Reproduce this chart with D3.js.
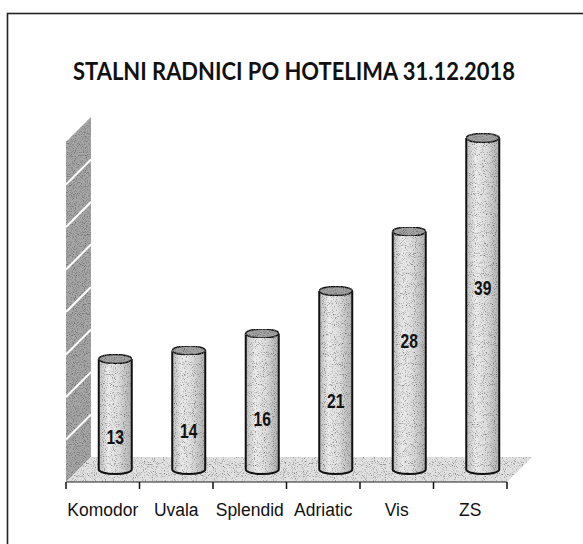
<!DOCTYPE html>
<html>
<head>
<meta charset="utf-8">
<script src="https://cdn.jsdelivr.net/npm/d3@7"></script>
<style>
  html, body { margin: 0; padding: 0; background: #fff; }
  svg { display: block; }
</style>
</head>
<body>
<svg id="chart" width="583" height="544"></svg>
<script>
// ---- data ----
const title = "STALNI RADNICI PO HOTELIMA 31.12.2018";
const categories = ["Komodor", "Uvala", "Splendid", "Adriatic", "Vis", "ZS"];
const values = [13, 14, 16, 21, 28, 39];
// where each value label sits on its bar, in value units
const labelValues = [3.9, 4.6, 6.0, 8.1, 15.1, 21.4];
const gridValues = [5, 10, 15, 20, 25, 30, 35];
const yMax = 40;

// ---- layout ----
const svg = d3.select("#chart");
const frontY = 482;           // front baseline
const depth = 25;             // 3D depth offset
const x = d3.scaleBand().domain(categories).range([66, 507]).paddingInner(0).paddingOuter(0);
const h = d3.scaleLinear().domain([0, yMax]).range([0, 340]);

const defs = svg.append("defs");

function makeGrain(id, a, b, seed) {
  const f = defs.append("filter").attr("id", id)
    .attr("x", 0).attr("y", 0).attr("width", 1).attr("height", 1);
  f.append("feTurbulence").attr("type", "fractalNoise")
    .attr("baseFrequency", 1.1).attr("numOctaves", 1).attr("seed", seed).attr("result", "noise");
  f.append("feColorMatrix").attr("in", "noise").attr("type", "matrix")
    .attr("values", `0 0 0 0 0.15  0 0 0 0 0.15  0 0 0 0 0.15  0 0 0 ${a} ${b}`).attr("result", "dots");
  f.append("feComposite").attr("in", "dots").attr("in2", "SourceGraphic").attr("operator", "in").attr("result", "dotsIn");
  f.append("feMerge").selectAll("feMergeNode").data(["SourceGraphic", "dotsIn"]).join("feMergeNode").attr("in", d => d);
}
makeGrain("grain", -3.2, 1.75, 3);
makeGrain("grainLight", -3.5, 1.7, 7);

const bodyGrad = defs.append("linearGradient").attr("id", "bodyGrad")
  .attr("x1", "0%").attr("x2", "100%").attr("y1", "0%").attr("y2", "0%");
[["0%", "#bdbdbd"], ["28%", "#ececec"], ["60%", "#dedede"], ["100%", "#b0b0b0"]]
  .forEach(([o, c]) => bodyGrad.append("stop").attr("offset", o).attr("stop-color", c));

// ---- frame ----
svg.append("rect").attr("x", 7.5).attr("y", 13.5).attr("width", 620).attr("height", 600)
  .attr("fill", "none").attr("stroke", "#222").attr("stroke-width", 1.6);

// ---- title ----
svg.append("text").attr("x", 294).attr("y", 80).attr("text-anchor", "middle")
  .attr("font-family", "Lato, 'Open Sans', sans-serif").attr("font-weight", 700)
  .attr("font-size", 24).attr("fill", "#111")
  .attr("textLength", 442).attr("lengthAdjust", "spacingAndGlyphs")
  .text(title);

// ---- wall ----
const x0 = x.range()[0];
const wall = svg.append("g");
wall.append("path")
  .attr("d", `M${x0},${frontY} L${x0},${frontY - h(yMax)} L${x0 + depth},${frontY - depth - h(yMax)} L${x0 + depth},${frontY - depth} Z`)
  .attr("fill", "#a8a8a8").attr("filter", "url(#grain)");
wall.selectAll("line.grid").data(gridValues).join("line").attr("class", "grid")
  .attr("x1", x0).attr("x2", x0 + depth)
  .attr("y1", d => frontY - h(d)).attr("y2", d => frontY - depth - h(d))
  .attr("stroke", "#fff").attr("stroke-width", 2);

// ---- floor ----
const x1 = x.range()[1];
svg.append("path")
  .attr("d", `M${x0},${frontY} L${x1},${frontY} L${x1 + depth},${frontY - depth} L${x0 + depth},${frontY - depth} Z`)
  .attr("fill", "#e2e2e2").attr("filter", "url(#grainLight)");

// ---- cylinders ----
const rx = 16.5, ry = 4.5;
const bars = svg.append("g").selectAll("g").data(values.map((v, i) => ({ v, c: categories[i], l: labelValues[i] })))
  .join("g");
bars.each(function (d) {
  const g = d3.select(this);
  const cx = x(d.c) + x.bandwidth() / 2 + depth / 2;
  const yb = frontY - depth / 2;
  const yt = yb - h(d.v);
  g.append("path")
    .attr("d", `M${cx - rx},${yt} L${cx - rx},${yb} A${rx},${ry} 0 0 0 ${cx + rx},${yb} L${cx + rx},${yt} Z`)
    .attr("fill", "url(#bodyGrad)").attr("filter", "url(#grainLight)");
  g.append("path")
    .attr("d", `M${cx - rx},${yt} L${cx - rx},${yb} A${rx},${ry} 0 0 0 ${cx + rx},${yb} L${cx + rx},${yt}`)
    .attr("fill", "none").attr("stroke", "#111").attr("stroke-width", 2);
  g.append("ellipse").attr("cx", cx).attr("cy", yt).attr("rx", rx).attr("ry", ry)
    .attr("fill", "#a4a4a4").attr("stroke", "#111").attr("stroke-width", 1.6)
    .attr("filter", "url(#grain)");
  g.append("text")
    .attr("transform", `translate(${cx},${yb - h(d.l)}) scale(0.78,1)`)
    .attr("dy", "0.36em")
    .attr("text-anchor", "middle")
    .attr("font-family", "'Liberation Sans', Arial, sans-serif")
    .attr("font-weight", 700).attr("font-size", 20).attr("fill", "#111")
    .text(d.v);
});

// ---- x axis ----
const axis = svg.append("g");
const bounds = categories.map(c => x(c)).concat([x1]);
axis.append("line").attr("x1", x0).attr("x2", x1).attr("y1", frontY).attr("y2", frontY)
  .attr("stroke", "#222").attr("stroke-width", 1);
axis.selectAll("line.tick").data(bounds).join("line").attr("class", "tick")
  .attr("x1", d => d).attr("x2", d => d).attr("y1", frontY).attr("y2", frontY + 7)
  .attr("stroke", "#111").attr("stroke-width", 1.5);
axis.selectAll("text").data(categories).join("text")
  .attr("transform", d => `translate(${x(d) + x.bandwidth() / 2},516) scale(0.92,1)`)
  .attr("text-anchor", "middle")
  .attr("font-family", "'Liberation Sans', Arial, sans-serif")
  .attr("font-size", 19).attr("fill", "#111")
  .text(d => d);
</script>
</body>
</html>
